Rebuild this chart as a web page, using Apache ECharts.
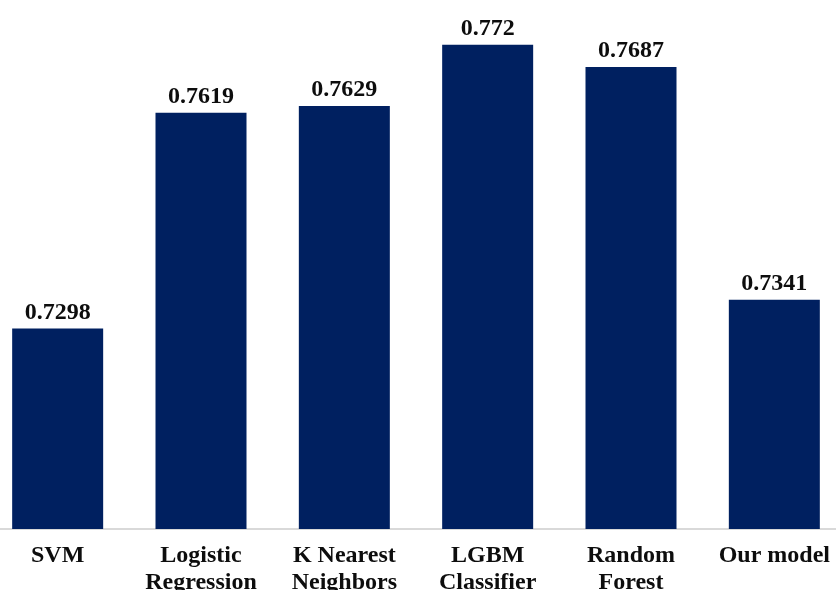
<!DOCTYPE html>
<html>
<head>
<meta charset="utf-8">
<script src="https://cdn.jsdelivr.net/npm/echarts@6/dist/echarts.min.js"></script>
<style>html,body{margin:0;padding:0;background:#fff;overflow:hidden;width:836px;height:590px}#c{position:absolute;left:-14px;top:-9px;width:860px;height:599px}</style>
</head>
<body>
<div id="c"></div>
<script>
const categories = ['SVM', 'Logistic\nRegression', 'K Nearest\nNeighbors', 'LGBM\nClassifier', 'Random\nForest', 'Our model'];
const values = [0.7298, 0.7619, 0.7629, 0.772, 0.7687, 0.7341];

const chart = echarts.init(document.getElementById('c'));
chart.setOption({
  animation: false,
  grid: { left: 0, right: 0, top: 0, bottom: 61, containLabel: false, outerBoundsMode: 'none' },
  xAxis: {
    type: 'category',
    data: categories,
    axisLine: { show: true, lineStyle: { color: '#d9d9d9', width: 2 } },
    axisTick: { show: false },
    axisLabel: {
      interval: 0,
      margin: 13,
      fontFamily: 'Liberation Serif',
      fontWeight: 'bold',
      fontSize: 24,
      lineHeight: 27,
      color: '#0d0d0d'
    }
  },
  yAxis: {
    type: 'value',
    min: 0.7,
    max: 0.78,
    show: false,
    splitLine: { show: false }
  },
  series: [{
    type: 'bar',
    data: values,
    barWidth: 91,
    itemStyle: { color: '#002060' },
    label: {
      show: true,
      position: 'top',
      distance: 4,
      fontFamily: 'Liberation Serif',
      fontWeight: 'bold',
      fontSize: 24,
      color: '#0d0d0d'
    }
  }]
});
</script>
</body>
</html>
